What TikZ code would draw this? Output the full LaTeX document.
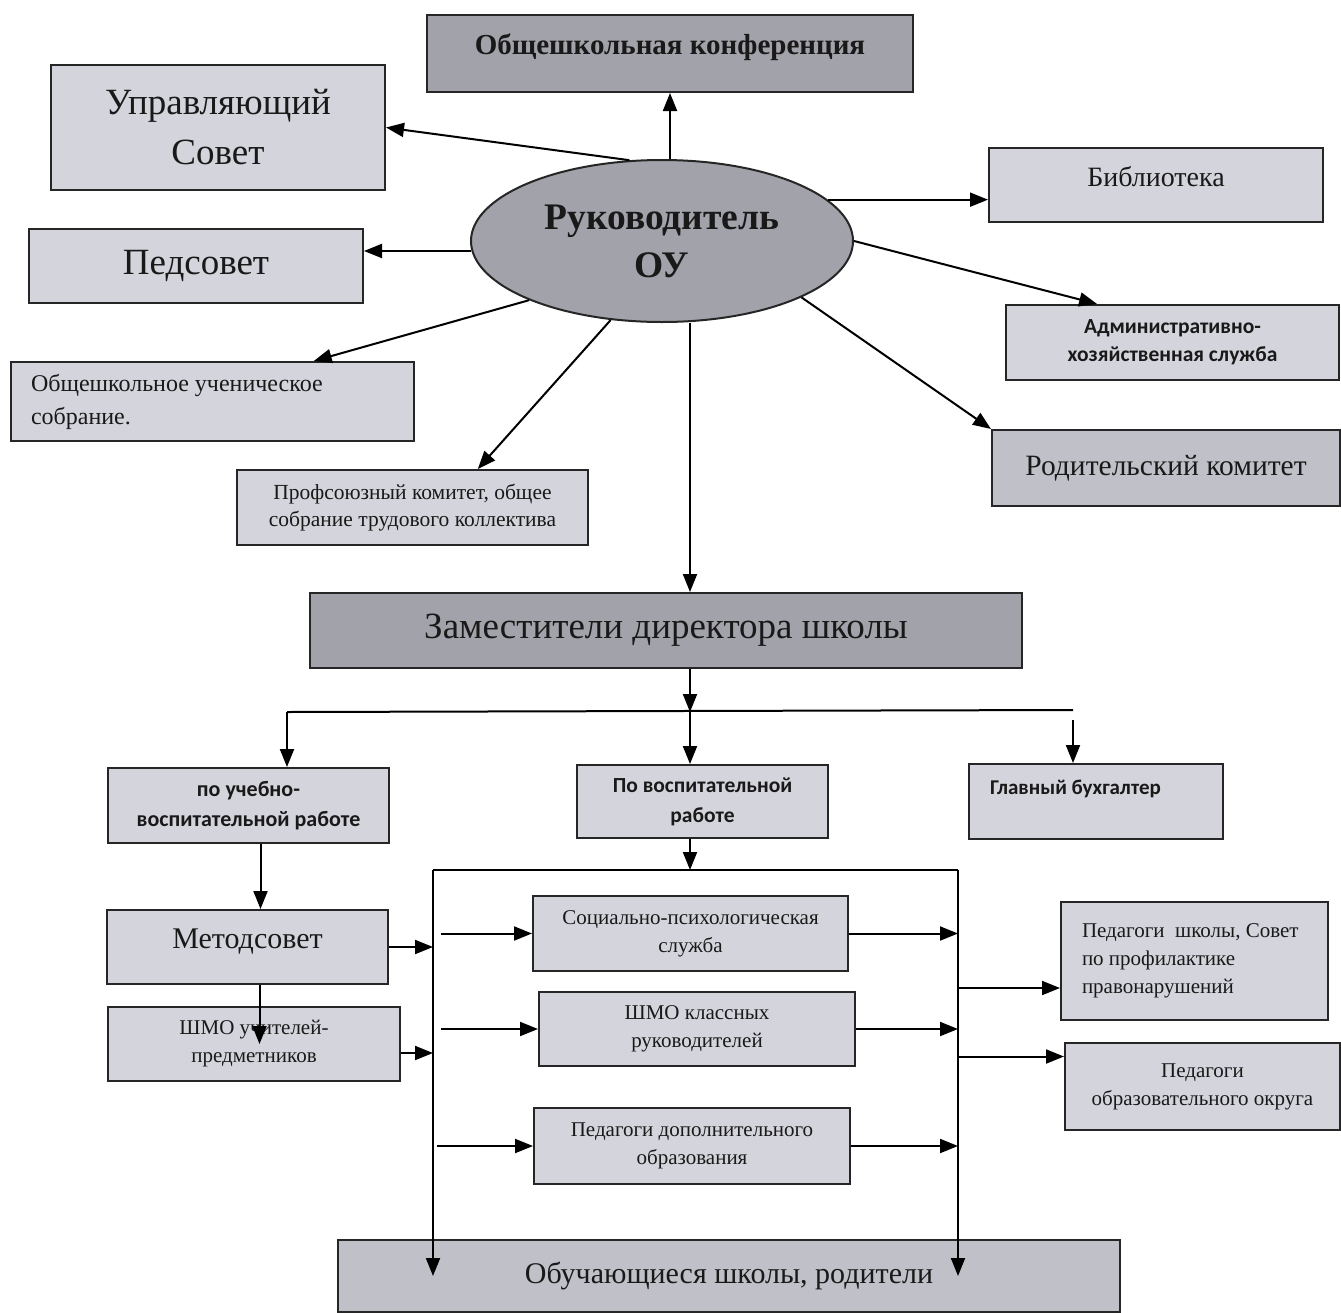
\documentclass[tikz,border=0pt]{standalone}
\usepackage{fontspec}
\setmainfont{Liberation Serif}
\newfontfamily\calfont{Carlito}
\usetikzlibrary{shapes,arrows.meta,calc}
\definecolor{boxlight}{RGB}{212,212,220}
\definecolor{boxmid}{RGB}{192,192,200}
\definecolor{boxdark}{RGB}{162,162,170}

\begin{document}
\begin{tikzpicture}[x=1pt,y=-1pt,line width=2pt,>={Triangle[length=18pt,width=14pt]}]
\tikzstyle{org}=[rectangle,draw=black!85,fill=#1,text=black!90,align=center,inner sep=4pt]
\tikzstyle{chief}=[ellipse,draw=black!85,fill=boxdark,text=black!90,align=center]
\useasboundingbox (0,0) rectangle (1341,1312);

\node[org=boxdark,minimum width=486,minimum height=77,font=\bfseries\fontsize{29}{32}\selectfont,text depth=18pt](konf) at (670,53.5) {Общешкольная конференция};
\node[org=boxlight,minimum width=334,minimum height=125,font=\fontsize{37}{50}\selectfont](upr) at (218,127.5) {Управляющий\\Совет};
\node[org=boxlight,minimum width=334,minimum height=74,font=\fontsize{37}{44}\selectfont](ped) at (196,266) {Педсовет};
\node[chief,minimum width=382,minimum height=162,font=\bfseries\fontsize{37.5}{48}\selectfont](ruk) at (662,241) {Руководитель\\ОУ};
\node[org=boxlight,minimum width=334,minimum height=74,font=\fontsize{28}{34}\selectfont,text depth=18pt](bib) at (1156,185) {Библиотека};
\node[org=boxlight,minimum width=333,minimum height=75,font=\calfont\bfseries\fontsize{21.5}{28}\selectfont](adm) at (1172.5,342.5) {Административно-\\хозяйственная служба};
\node[org=boxmid,minimum width=348,minimum height=76,font=\fontsize{29.5}{34}\selectfont](rod) at (1166,468) {Родительский комитет};
\node[org=boxlight,minimum width=403,minimum height=79,text width=363,align=flush left,font=\fontsize{24}{33}\selectfont](uch) at (212.5,401.5) {Общешкольное ученическое\\собрание.};
\node[org=boxlight,minimum width=351,minimum height=75,font=\fontsize{21.5}{27}\selectfont](prof) at (412.5,507.5) {Профсоюзный комитет, общее\\собрание трудового коллектива};
\node[org=boxdark,minimum width=712,minimum height=75,font=\fontsize{37}{44}\selectfont](zam) at (666,630.5) {Заместители директора школы};

\node[org=boxlight,minimum width=281,minimum height=75,font=\calfont\bfseries\fontsize{22}{30}\selectfont](uvr) at (248.5,805.5) {по учебно-\\воспитательной работе};
\node[org=boxlight,minimum width=251,minimum height=73,font=\calfont\bfseries\fontsize{21.5}{30}\selectfont](vr) at (702.5,801.5) {По воспитательной\\работе};
\node[org=boxlight,minimum width=254,minimum height=75,text width=212,align=flush left,font=\calfont\bfseries\fontsize{21}{28}\selectfont,text depth=28pt](buh) at (1096,801.5) {Главный бухгалтер};
\node[org=boxlight,minimum width=281,minimum height=74,font=\fontsize{30}{34}\selectfont,text depth=16pt](met) at (247.5,947) {Методсовет};
\node[org=boxlight,minimum width=292,minimum height=74,font=\fontsize{21}{28}\selectfont](shu) at (254,1044) {ШМО учителей-\\предметников};
\node[org=boxlight,minimum width=315,minimum height=75,font=\fontsize{21}{28}\selectfont](soc) at (690.5,933.5) {Социально-психологическая\\служба};
\node[org=boxlight,minimum width=316,minimum height=74,font=\fontsize{21}{28}\selectfont](shk) at (697,1029) {ШМО классных\\руководителей};
\node[org=boxlight,minimum width=316,minimum height=76,font=\fontsize{21}{28}\selectfont](pdo) at (692,1146) {Педагоги дополнительного\\образования};
\node[org=boxlight,minimum width=267,minimum height=118,text width=225,align=flush left,font=\fontsize{21}{28}\selectfont](psh) at (1194.5,961) {Педагоги\ \ школы, Совет\\по профилактике\\правонарушений};
\node[org=boxlight,minimum width=275,minimum height=87,font=\fontsize{21}{28}\selectfont](pok) at (1202.5,1086.5) {Педагоги\\образовательного округа};
\node[org=boxmid,minimum width=782,minimum height=72,font=\fontsize{30}{34}\selectfont](obu) at (729,1276) {Обучающиеся школы, родители};

\coordinate (trunk) at (690,0);
\coordinate (busL) at (287,712);
\coordinate (busR) at (1073,710);
\coordinate (frL) at (433,870);
\coordinate (frR) at (958,870);

\draw[->] (konf.south |- ruk.north) -- (konf.south);
\draw[->] (ruk.112) -- (upr.east);
\draw[->] (ruk.183) -- (ruk.183 -| ped.east);
\draw[->] (ruk.204) -- ($(uch.north)!.5!(uch.north east)$);
\draw[->] (ruk.237) -- ($(prof.north)!.37!(prof.north east)$);
\draw[->] (ruk.south -| trunk) -- (zam.north -| trunk);
\draw[->] (ruk.14) -- (ruk.14 -| bib.west);
\draw[->] (ruk.east) -- ($(adm.north west)!.55!(adm.north)$);
\draw[->] (ruk.-22) -- (rod.north west);

\draw[->] (zam.south -| trunk) -- (busL -| trunk);
\draw (busL) -- (busR);
\draw[->] (busL) -- (busL |- uvr.north);
\draw[->] (busL -| trunk) -- (vr.north -| trunk);
\draw[->] ([yshift=-10pt]busR) -- (busR |- buh.north);

\draw[->] (vr.south -| trunk) -- (frL -| trunk);
\draw (frL) -- (frR);
\draw[->] (frL) -- (frL |- obu.center);
\draw[->] (frR) -- (frR |- obu.center);

\draw[->] ([xshift=12pt]uvr.south) -- ([xshift=12pt]uvr.south |- met.north);
\draw[->] ([xshift=12pt]met.south) -- ([xshift=12pt]met.south |- shu.center);
\draw[->] (met.east) -- (met.east -| frL);
\draw[->] ([yshift=-9pt]shu.east) -- ([yshift=-9pt]shu.east -| frL);

\draw[->] ([xshift=8pt]soc.west -| frL) -- (soc.west);
\draw[->] ([xshift=8pt]shk.west -| frL) -- (shk.west);
\draw[->] ([xshift=4pt]pdo.west -| frL) -- (pdo.west);
\draw[->] (soc.east) -- (soc.east -| frR);
\draw[->] (shk.east) -- (shk.east -| frR);
\draw[->] (pdo.east) -- (pdo.east -| frR);
\draw[->] ([yshift=-27pt]psh.west -| frR) -- ([yshift=-27pt]psh.west);
\draw[->] ([yshift=30pt]pok.west -| frR) -- ([yshift=30pt]pok.west);
\end{tikzpicture}
\end{document}
